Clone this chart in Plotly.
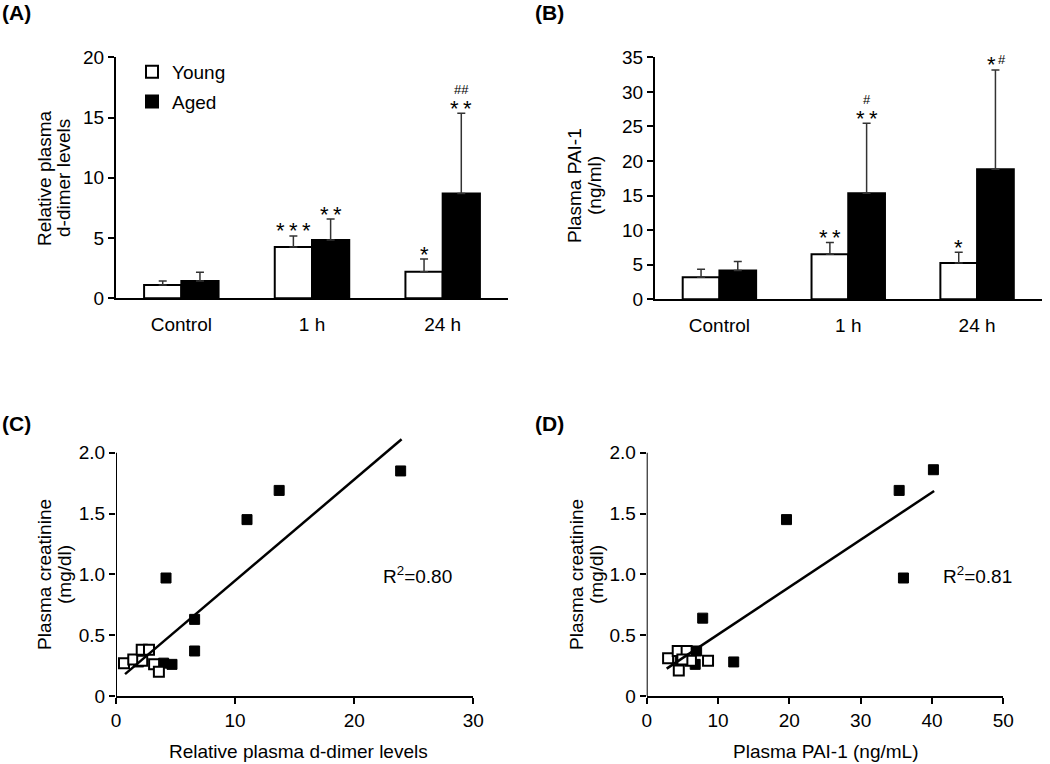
import plotly.graph_objects as go

W, H = 1050, 764


def fx(p):
    return p / W


def fy(p):
    return 1 - p / H


# ---------------- data ----------------
categories = ["Control", "1 h", "24 h"]

ddimer_young = [1.10, 4.26, 2.21]
ddimer_young_err = [0.34, 0.91, 1.05]
ddimer_aged = [1.44, 4.84, 8.69]
ddimer_aged_err = [0.72, 1.74, 6.66]

pai_young = [3.18, 6.51, 5.26]
pai_young_err = [1.16, 1.69, 1.54]
pai_aged = [4.15, 15.33, 18.80]
pai_aged_err = [1.30, 10.13, 14.37]

# significance marks (stars above bar, "#" above stars, "#" beside stars)
ddimer_stars_young = ["", "***", "*"]
ddimer_stars_aged = ["", "**", "**"]
ddimer_hash_aged = ["", "", "##"]
ddimer_side_aged = ["", "", ""]
pai_stars_young = ["", "**", "*"]
pai_stars_aged = ["", "**", "*"]
pai_hash_aged = ["", "#", ""]
pai_side_aged = ["", "", "#"]
no_marks = ["", "", ""]

c_young_x = [0.67, 1.45, 2.16, 2.77, 2.2, 3.2, 3.6]
c_young_y = [0.27, 0.30, 0.38, 0.38, 0.29, 0.26, 0.20]
c_aged_x = [23.9, 13.7, 11.0, 4.2, 6.6, 6.6, 4.7, 4.0, 1.9]
c_aged_y = [1.85, 1.69, 1.45, 0.97, 0.63, 0.37, 0.26, 0.27, 0.28]
c_fit_x = [0.76, 23.98]
c_fit_y = [0.18, 2.11]
c_r2 = "R<sup>2</sup>=0.80"

d_young_x = [3.0, 4.35, 5.6, 6.2, 8.6, 4.5, 5.0]
d_young_y = [0.31, 0.37, 0.37, 0.29, 0.29, 0.21, 0.30]
d_aged_x = [40.2, 35.4, 19.6, 36.0, 7.85, 12.2, 7.0, 6.8, 4.7]
d_aged_y = [1.86, 1.69, 1.45, 0.97, 0.64, 0.28, 0.37, 0.26, 0.30]
d_fit_x = [2.8, 40.3]
d_fit_y = [0.225, 1.685]
d_r2 = "R<sup>2</sup>=0.81"

FONT = "Arial, Liberation Sans, sans-serif"
FS = 19
ERRC = "#333333"

fig = go.Figure()


def add_bars(xa, ya, young, yerr, aged, aerr, showlegend):
    fig.add_trace(go.Bar(
        x=categories, y=young, name="Young", xaxis=xa, yaxis=ya,
        marker=dict(color="white", line=dict(color="black", width=2)),
        error_y=dict(type="data", array=yerr, arrayminus=[0] * len(yerr), symmetric=False,
                     color=ERRC, thickness=1.5, width=4),
        showlegend=showlegend, legendgroup="young",
    ))
    fig.add_trace(go.Bar(
        x=categories, y=aged, name="Aged", xaxis=xa, yaxis=ya,
        marker=dict(color="black", line=dict(color="black", width=2)),
        error_y=dict(type="data", array=aerr, arrayminus=[0] * len(aerr), symmetric=False,
                     color=ERRC, thickness=1.5, width=4),
        showlegend=showlegend, legendgroup="aged",
    ))


add_bars("x", "y", ddimer_young, ddimer_young_err, ddimer_aged, ddimer_aged_err, True)
add_bars("x2", "y2", pai_young, pai_young_err, pai_aged, pai_aged_err, False)


def add_scatter(xa, ya, yx, yy, ax, ay, fx_, fy_):
    fig.add_trace(go.Scatter(
        x=ax, y=ay, mode="markers", xaxis=xa, yaxis=ya, showlegend=False,
        marker=dict(symbol="square", size=10, color="black", line=dict(color="black", width=1)),
    ))
    fig.add_trace(go.Scatter(
        x=yx, y=yy, mode="markers", xaxis=xa, yaxis=ya, showlegend=False,
        marker=dict(symbol="square", size=10, color="white", line=dict(color="black", width=2)),
    ))
    fig.add_trace(go.Scatter(
        x=fx_, y=fy_, mode="lines", xaxis=xa, yaxis=ya, showlegend=False,
        line=dict(color="black", width=2.5),
    ))


add_scatter("x3", "y3", c_young_x, c_young_y, c_aged_x, c_aged_y, c_fit_x, c_fit_y)
add_scatter("x4", "y4", d_young_x, d_young_y, d_aged_x, d_aged_y, d_fit_x, d_fit_y)

tickfont = dict(family=FONT, size=FS, color="black")

bar_x_common = dict(
    type="category", range=[-0.5, 2.5], showline=True, linecolor="black", linewidth=2,
    ticks="", tickfont=tickfont, ticklabelstandoff=8, showgrid=False, zeroline=False,
    automargin=False,
)
bar_y_common = dict(
    showline=True, linecolor="black", linewidth=2, ticks="outside", ticklen=6,
    tickwidth=2, tickcolor="black", tickfont=tickfont, showgrid=False, zeroline=False,
    automargin=False,
)
sc_common = dict(
    ticks="outside", ticklen=6, tickwidth=2, tickcolor="black",
    tickfont=tickfont, showgrid=False, zeroline=False, automargin=False,
)

Ymax = 2.15
layout = dict(
    template="none",
    width=W, height=H, margin=dict(l=0, r=0, t=0, b=0, pad=0, autoexpand=False),
    paper_bgcolor="white", plot_bgcolor="white",
    font=dict(family=FONT, size=FS, color="black"),
    barmode="group", bargap=0.43, bargroupgap=0,
    xaxis=dict(domain=[fx(116), fx(508)], anchor="y", **bar_x_common),
    yaxis=dict(domain=[fy(298.3), fy(57.3)], anchor="x", range=[0, 20],
               tickvals=[0, 5, 10, 15, 20], **bar_y_common),
    xaxis2=dict(domain=[fx(655), fx(1041.5)], anchor="y2", **bar_x_common),
    yaxis2=dict(domain=[fy(299.3), fy(57.3)], anchor="x2", range=[0, 35],
                tickvals=[0, 5, 10, 15, 20, 25, 30, 35], **bar_y_common),
    xaxis3=dict(domain=[fx(116), fx(473.3)], anchor="y3", range=[0, 30],
                tickvals=[0, 10, 20, 30], showline=True, linecolor="black", linewidth=2,
                **sc_common),
    yaxis3=dict(domain=[fy(696), fy(696 - Ymax * 121.65)], anchor="x3", range=[0, Ymax],
                tickvals=[0, 0.5, 1.0, 1.5, 2.0], ticktext=["0", "0.5", "1.0", "1.5", "2.0"],
                showline=False, **sc_common),
    xaxis4=dict(domain=[fx(646.7), fx(1003.3)], anchor="y4", range=[0, 50],
                tickvals=[0, 10, 20, 30, 40, 50], showline=True, linecolor="black", linewidth=2,
                **sc_common),
    yaxis4=dict(domain=[fy(696), fy(696 - Ymax * 121.65)], anchor="x4", range=[0, Ymax],
                tickvals=[0, 0.5, 1.0, 1.5, 2.0], ticktext=["0", "0.5", "1.0", "1.5", "2.0"],
                showline=False, **sc_common),
    legend=dict(x=fx(132), y=fy(53), xanchor="left", yanchor="top",
                font=dict(family=FONT, size=19), bgcolor="rgba(0,0,0,0)",
                tracegroupgap=2, traceorder="grouped", borderwidth=0),
    showlegend=True,
)
fig.update_layout(**layout)

shapes = []
for xr, yr in (("x3", "y3"), ("x4", "y4")):
    shapes.append(dict(type="line", xref=xr, yref=yr, x0=0, x1=0, y0=0, y1=2.0,
                       line=dict(color="black", width=2)))
fig.update_layout(shapes=shapes)

ann = []


def txt(x, y, text, size=FS, bold=False, angle=0, xanchor="center", yanchor="middle"):
    t = f"<b>{text}</b>" if bold else text
    ann.append(dict(xref="paper", yref="paper", x=fx(x), y=fy(y), text=t, showarrow=False,
                    textangle=angle, xanchor=xanchor, yanchor=yanchor,
                    font=dict(family=FONT, size=size, color="black")))


# panel letters
txt(0, -1, "(A)", size=21, bold=True, xanchor="left", yanchor="top")
txt(533, -1, "(B)", size=21, bold=True, xanchor="left", yanchor="top")
txt(0, 410, "(C)", size=21, bold=True, xanchor="left", yanchor="top")
txt(533, 410, "(D)", size=21, bold=True, xanchor="left", yanchor="top")

# axis titles
txt(44, 178, "Relative plasma", angle=-90)
txt(63, 178, "d-dimer levels", angle=-90)
txt(574, 186, "Plasma PAI-1", angle=-90)
txt(594, 186, "(ng/ml)", angle=-90)
txt(44, 575, "Plasma creatinine", angle=-90)
txt(64, 575, "(mg/dl)", angle=-90)
txt(576, 575, "Plasma creatinine", angle=-90)
txt(596, 575, "(mg/dl)", angle=-90)
txt(298, 751, "Relative plasma d-dimer levels")
txt(825, 751, "Plasma PAI-1 (ng/mL)")

# R^2
txt(417, 575, c_r2)
txt(977, 575, d_r2)

SHIFT = 18.6


def marks(xa, ya, means, errs, stars, hashes, sides, xshift):
    for c, m, e, s, h, sd in zip(categories, means, errs, stars, hashes, sides):
        top = m + e
        if s:
            st = "&#8201;".join(s)
            ann.append(dict(xref=xa, yref=ya, x=c, y=top, text=st, showarrow=False,
                            xshift=xshift - (4 if sd else 0), yanchor="middle", yshift=5,
                            font=dict(family=FONT, size=22, color="black")))
        if h:
            ann.append(dict(xref=xa, yref=ya, x=c, y=top, text=h, showarrow=False,
                            xshift=xshift, yanchor="middle", yshift=23.5,
                            font=dict(family=FONT, size=13, color="black")))
        if sd:
            ann.append(dict(xref=xa, yref=ya, x=c, y=top, text=sd, showarrow=False,
                            xshift=xshift + 6.5, yanchor="middle", yshift=10,
                            font=dict(family=FONT, size=13, color="black")))


marks("x", "y", ddimer_young, ddimer_young_err, ddimer_stars_young, no_marks, no_marks, -SHIFT)
marks("x", "y", ddimer_aged, ddimer_aged_err, ddimer_stars_aged, ddimer_hash_aged,
      ddimer_side_aged, SHIFT)
marks("x2", "y2", pai_young, pai_young_err, pai_stars_young, no_marks, no_marks, -SHIFT)
marks("x2", "y2", pai_aged, pai_aged_err, pai_stars_aged, pai_hash_aged, pai_side_aged, SHIFT)

fig.update_layout(annotations=ann)

fig.write_html(
    "out.html",
    config={"displayModeBar": False},
    post_script="document.body.style.margin='0';document.body.style.overflow='hidden';",
)
